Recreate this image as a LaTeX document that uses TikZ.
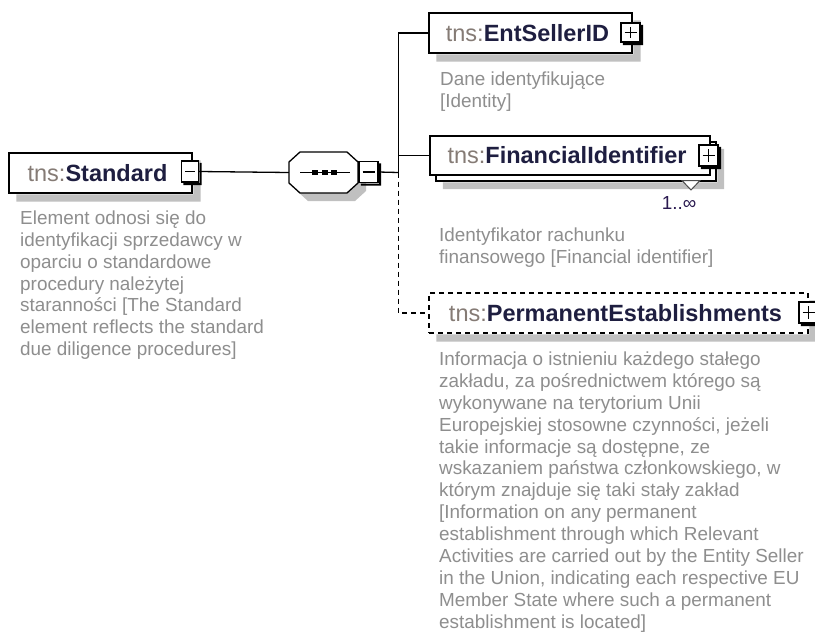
\documentclass[tikz,border=0pt]{standalone}
\usepackage{fontspec}
\setmainfont{Liberation Sans}
\definecolor{pref}{HTML}{857B75}
\definecolor{nm}{HTML}{1E1E40}
\definecolor{desc}{HTML}{8E8E8E}
\definecolor{card}{HTML}{2A1A50}
\definecolor{shd}{HTML}{C0C0C0}
\tikzset{
  elem/.style={draw=black, line width=1.3pt, fill=white, rectangle, inner sep=0pt,
    font=\fontsize{23.5}{28}\selectfont},
  optelem/.style={elem, dash pattern=on 5pt off 4pt},
  pmbox/.style={draw=black, fill=white, line width=1.2pt, inner sep=0pt},
  minusbox/.style={pmbox, path picture={
    \draw[line width=1.2pt] ([xshift=3.5pt]path picture bounding box.west) -- ([xshift=-3.5pt]path picture bounding box.east);}},
  plusbox/.style={pmbox, path picture={
    \draw[line width=1.2pt] ([xshift=3.5pt]path picture bounding box.west) -- ([xshift=-3.5pt]path picture bounding box.east);
    \draw[line width=1.2pt] ([yshift=-4pt]path picture bounding box.north) -- ([yshift=4pt]path picture bounding box.south);}},
  descr/.style={anchor=north west, align=left, inner sep=0pt, text=desc,
    font=\fontsize{18.9}{21.9}\selectfont},
  conn/.style={line width=1.3pt, draw=black},
  optconn/.style={conn, dash pattern=on 5pt off 4pt},
}
\newcommand{\ttl}[1]{\textcolor{pref}{tns:}\textbf{\textcolor{nm}{#1}}\kern6pt}
% L-shaped shadow right/below node #1, offset #2, colour #3
\newcommand{\shadeL}[3]{%
  \fill[#3] ([shift={(0.6,#2)}]#1.north east) -- ([shift={(#2,#2)}]#1.north east)
    -- ([shift={(#2,#2)}]#1.south east) -- ([shift={(#2,#2)}]#1.south west)
    -- ([shift={(#2,0.6)}]#1.south west) -- ([shift={(0.6,0.6)}]#1.south east) -- cycle;}
\begin{document}
\begin{tikzpicture}[x=1pt,y=-1pt]
\useasboundingbox[fill=white] (0,0) rectangle (815,632);

% Standard element
\node[elem, minimum width=183pt, minimum height=40pt] (std) at (100.5,173) {\ttl{Standard}};
\shadeL{std}{8}{shd}
\node[minusbox, minimum width=17pt, minimum height=21pt] (stdm) at (190,171.5) {};
\shadeL{stdm}{2.4}{black}
\node[descr] (stdd) at (20,210.5) {Element odnosi się do\\identyfikacji sprzedawcy w\\oparciu o standardowe\\procedury należytej\\staranności [The Standard\\element reflects the standard\\due diligence procedures]};

% sequence compositor
\node[minimum width=69pt, minimum height=41pt, inner sep=0pt] (seq) at (323.5,172.5) {};
\begin{scope}[shift={(seq.center)}]
  \fill[shd] (-15.5,-12.5) -- (31.5,-12.5) -- (42.5,-2.5) -- (42.5,18.5) -- (31.5,28.5) -- (-15.5,28.5) -- (-26.5,18.5) -- (-26.5,-2.5) -- cycle;
  \filldraw[fill=white, draw=black, line width=1.3pt] (-23.5,-20.5) -- (23.5,-20.5) -- (34.5,-10.5) -- (34.5,10.5) -- (23.5,20.5) -- (-23.5,20.5) -- (-34.5,10.5) -- (-34.5,-10.5) -- cycle;
  \draw[line width=1.3pt] (-23.5,0) -- (26.5,0);
  \fill (-11.8,-2.5) rectangle (-5.8,2.5);
  \fill (-2,-2.5) rectangle (4,2.5);
  \fill (7.5,-2.5) rectangle (13.5,2.5);
\end{scope}
\node[minusbox, minimum width=19pt, minimum height=21pt] (seqm) at (368.5,172) {};
\shadeL{seqm}{2.4}{black}
\coordinate (J) at (398.5,172.5);

% EntSellerID
\node[elem, minimum width=203pt, minimum height=40pt] (ent) at (530.5,33) {\ttl{EntSellerID}};
\shadeL{ent}{8}{shd}
\node[plusbox, minimum width=19pt, minimum height=19pt] (entp) at (630.5,32.5) {};
\shadeL{entp}{2.4}{black}
\node[descr] (entd) at (440,71.5) {Dane identyfikujące\\{}[Identity]};

% FinancialIdentifier
\node[elem, minimum width=280pt, minimum height=39pt] (fib) at (576,161.5) {};
\shadeL{fib}{7.5}{shd}
\node[elem, minimum width=280pt, minimum height=39pt] (fi) at (570,155.5) {\ttl{FinancialIdentifier}};
\node[plusbox, minimum width=19pt, minimum height=21pt] (fip) at (708.5,155.5) {};
\shadeL{fip}{2.4}{black}
\filldraw[fill=white, draw=black!70, line width=1pt] (682,180.5) -- (700,180.5) -- (691,190) -- cycle;
\node[inner sep=0pt, text=card, font=\fontsize{18.9}{21.9}\selectfont] (fic) at (679,203) {1..∞};
\node[descr] (fid) at (439,227.5) {Identyfikator rachunku\\finansowego [Financial identifier]};

% PermanentEstablishments
\node[optelem, minimum width=379pt, minimum height=40pt] (pe) at (618.5,313) {\ttl{PermanentEstablishments}};
\shadeL{pe}{8}{shd}
\node[plusbox, minimum width=19pt, minimum height=21pt] (pep) at (808.5,312.5) {};
\shadeL{pep}{2.4}{black}
\node[descr] (ped) at (439,351.5) {Informacja o istnieniu każdego stałego\\zakładu, za pośrednictwem którego są\\wykonywane na terytorium Unii\\Europejskiej stosowne czynności, jeżeli\\takie informacje są dostępne, ze\\wskazaniem państwa członkowskiego, w\\którym znajduje się taki stały zakład\\{}[Information on any permanent\\establishment through which Relevant\\Activities are carried out by the Entity Seller\\in the Union, indicating each respective EU\\Member State where such a permanent\\establishment is located]};

% connectors
\draw[conn] (stdm.east) -- (seq.west);
\draw[conn] (seqm.east) -- (J);
\draw[conn] (J) |- (ent.west);
\draw[conn] (J) |- (fi.west);
\draw[optconn] (J) |- (pe.west);
\end{tikzpicture}
\end{document}
